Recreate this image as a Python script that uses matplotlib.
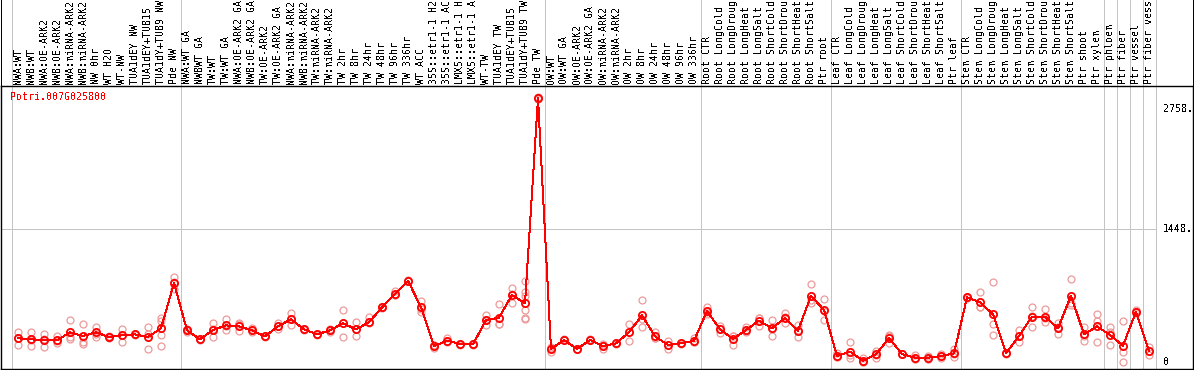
import matplotlib
matplotlib.use("Agg")
import matplotlib.pyplot as plt

gene_name = "Potri.007G025800"

labels = [
    "NWA:WT", "NWB:WT", "NWA:OE-ARK2", "NWB:OE-ARK2", "NWA:miRNA-ARK2",
    "NWB:miRNA-ARK2", "NW 0hr", "WT H2O", "WT-NW", "TUA1dEY NW",
    "TUA1dEY+TUB15", "TUA1dY+TUB9 NW", "Pde NW",
    "NWA:WT GA", "NWBWT GA", "TW:WT", "TW:WT GA", "NWA:OE-ARK2 GA",
    "NWB:OE-ARK2 GA", "TW:OE-ARK2", "TW:OE-ARK2 GA", "NWA:miRNA-ARK2",
    "NWB:miRNA-ARK2", "TW:miRNA-ARK2", "TW:miRNA-ARK2", "TW 2hr", "TW 8hr",
    "TW 24hr", "TW 48hr", "TW 96hr", "TW 336hr", "WT ACC", "35S::etr1-1 H2",
    "35S::etr1-1 AC", "LMX5::etr1-1 H", "LMX5::etr1-1 A", "WT-TW",
    "TUA1dEY TW", "TUA1dEY+TUB15", "TUA1dY+TUB9 TW", "Pde TW",
    "OW:WT", "OW:WT GA", "OW:OE-ARK2", "OW:OE-ARK2 GA", "OW:miRNA-ARK2",
    "OW:miRNA-ARK2", "OW 2hr", "OW 8hr", "OW 24hr", "OW 48hr", "OW 96hr",
    "OW 336hr",
    "Root CTR", "Root LongCold", "Root LongDroug", "Root LongHeat",
    "Root LongSalt", "Root ShortCold", "Root ShortDrou", "Root ShortHeat",
    "Root ShortSalt", "Ptr root",
    "Leaf CTR", "Leaf LongCold", "Leaf LongDroug", "Leaf LongHeat",
    "Leaf LongSalt", "Leaf ShortCold", "Leaf ShortDrou", "Leaf ShortHeat",
    "Leaf ShortSalt", "Ptr leaf",
    "Stem CTR", "Stem LongCold", "Stem LongDroug", "Stem LongHeat",
    "Stem LongSalt", "Stem ShortCold", "Stem ShortDrou", "Stem ShortHeat",
    "Stem ShortSalt", "Ptr shoot", "Ptr xylem",
    "Ptr phloem", "Ptr fiber", "Ptr vessel", "Ptr fiber vess",
]

means = [
    258, 247, 236, 236, 323, 283, 323, 272, 290, 301, 272, 367, 860,
    345, 247, 348, 399, 388, 345, 279, 388, 465, 356, 301, 345, 421, 356,
    432, 595, 740, 885, 595, 174, 232, 196, 192, 457, 483, 729, 639, 2871,
    142, 240, 142, 240, 174, 203, 323, 508, 279, 185, 203, 232,
    555, 356, 250, 348, 450, 367, 479, 341, 722, 566,
    65, 113, 15, 83, 261, 87, 47, 47, 65, 94,
    704, 650, 519, 94, 283, 494, 494, 367, 722, 301, 388,
    294, 178, 548, 120,
]

replicates = [
    [323, 185, 265], [323, 178, 240], [301, 160, 247], [283, 203, 225],
    [454, 247, 268], [410, 221, 196], [385, 276, 309], [283, 258, 275],
    [359, 221, 290], [301, 305, 297], [377, 138, 301], [483, 446, 294, 170],
    [922, 791, 867],
    [323, 360, 352], [240, 250, 250], [421, 269, 355], [465, 345, 388],
    [421, 334, 410], [367, 323, 345], [283, 275, 279], [421, 356, 388],
    [530, 399, 465], [356, 350, 362], [301, 297, 305], [363, 330, 345],
    [563, 276, 425], [432, 283, 356], [486, 421, 432], [595, 600, 590],
    [769, 725, 728], [885, 880, 890], [664, 548, 575], [149, 185, 188],
    [258, 225, 214], [196, 190, 200], [192, 188, 196], [512, 403, 457],
    [628, 410, 410], [802, 639, 745], [882, 766, 719, 566, 475, 465],
    [2860, 2880, 2871],
    [113, 150, 163], [240, 236, 245], [142, 138, 146], [240, 236, 245],
    [138, 185, 200], [203, 200, 207], [410, 232, 327], [671, 385, 468],
    [323, 258, 256], [232, 138, 185], [203, 200, 207], [258, 220, 218],
    [595, 523, 547], [392, 319, 356], [185, 283, 283], [377, 330, 337],
    [483, 392, 475], [457, 283, 361], [530, 421, 486], [403, 276, 345],
    [846, 646, 675], [682, 457, 559],
    [94, 50, 51], [214, 47, 78], [47, 0, 0], [123, 47, 79], [287, 203, 293],
    [87, 85, 90], [76, 30, 35], [69, 35, 37], [87, 47, 61], [142, 51, 89],
    [704, 700, 708], [758, 595, 597], [867, 410, 294], [94, 90, 98],
    [348, 221, 280], [602, 377, 503], [573, 432, 477], [421, 301, 379],
    [900, 621, 645], [385, 232, 286], [523, 446, 214],
    [377, 181, 324], [446, 113, 4], [566, 540, 538], [167, 76, 117],
]

group_bounds = [0, 13, 41, 53, 63, 73, 84, 85, 86, 87, 88]
tick_values = [0, 1448, 2758]
tick_texts = ["0", "1448.", "2758."]
grid_values = [1448]

# ---------------------------------------------------------------------------
W, H = 1194, 370
DPI = 100
plt.rcParams["text.antialiased"] = False
FONT = "DejaVu Sans Mono"
FS = 7.1
RED = "#ff0000"
PINK = "#ec9a9a"
GRID = "#c4c4c4"
PX = 0.72  # one pixel in points

fig = plt.figure(figsize=(W / DPI, H / DPI), dpi=DPI)

# pixel geometry
x0_pix, x1_pix = 1, 1193
top_pix, bot_pix = 86, 369
first_pt, step = 18, 13
zero_pix, k = 362, (362 - 229) / 1448.0

xlim = ((x0_pix - first_pt) / step, (x1_pix - first_pt) / step)
ylim = ((zero_pix - bot_pix) / k, (zero_pix - top_pix) / k)

# label strip
axl = fig.add_axes([x0_pix / W, (H - top_pix) / H, (x1_pix - x0_pix) / W, top_pix / H])
axl.set_xlim(*xlim)
axl.set_ylim(0, top_pix)
axl.invert_yaxis()
axl.set_xticks([]); axl.set_yticks([])
for s in ("top", "bottom"):
    axl.spines[s].set_visible(False)
for s in ("left", "right"):
    axl.spines[s].set_color("black")
    axl.spines[s].set_linewidth(PX)
for b in group_bounds:
    axl.axvline(b - 0.5, color=GRID, lw=PX, antialiased=False)
for i, lab in enumerate(labels):
    axl.text(i, top_pix - 1.5, lab, rotation=90, ha="center", va="bottom",
             family=FONT, fontsize=FS, color="black", clip_on=False)

# plot area
ax = fig.add_axes([x0_pix / W, (H - bot_pix) / H, (x1_pix - x0_pix) / W, (bot_pix - top_pix) / H])
ax.set_xlim(*xlim)
ax.set_ylim(*ylim)
ax.set_xticks([]); ax.set_yticks([])
for s in ax.spines.values():
    s.set_color("black")
    s.set_linewidth(1.0)
for b in group_bounds:
    ax.axvline(b - 0.5, color=GRID, lw=PX, antialiased=False, zorder=1)
for gv in grid_values:
    ax.plot([xlim[0], group_bounds[-1] - 0.5], [gv, gv], color=GRID, lw=PX,
            antialiased=False, zorder=1)

xs = list(range(len(means)))
for i, reps in enumerate(replicates):
    ax.plot([i] * len(reps), reps, linestyle="none", marker="o", markersize=5.0,
            markerfacecolor="none", markeredgecolor=PINK, markeredgewidth=0.9,
            zorder=2)
ax.plot(xs, means, color=RED, lw=PX, zorder=3, antialiased=False)
ax.plot(xs, means, linestyle="none", marker="o", markersize=5.2,
        markerfacecolor="none", markeredgecolor=RED, markeredgewidth=1.3,
        zorder=4)

ax.text((10 - first_pt) / step, (zero_pix - 97) / k, gene_name, color=RED,
        family=FONT, fontsize=FS, ha="left", va="center")

tick_x = (1163 - first_pt) / step
for v, t in zip(tick_values, tick_texts):
    ax.text(tick_x, v, t, family=FONT, fontsize=FS, ha="left", va="center",
            color="black")

fig.savefig("out.png", dpi=DPI)
